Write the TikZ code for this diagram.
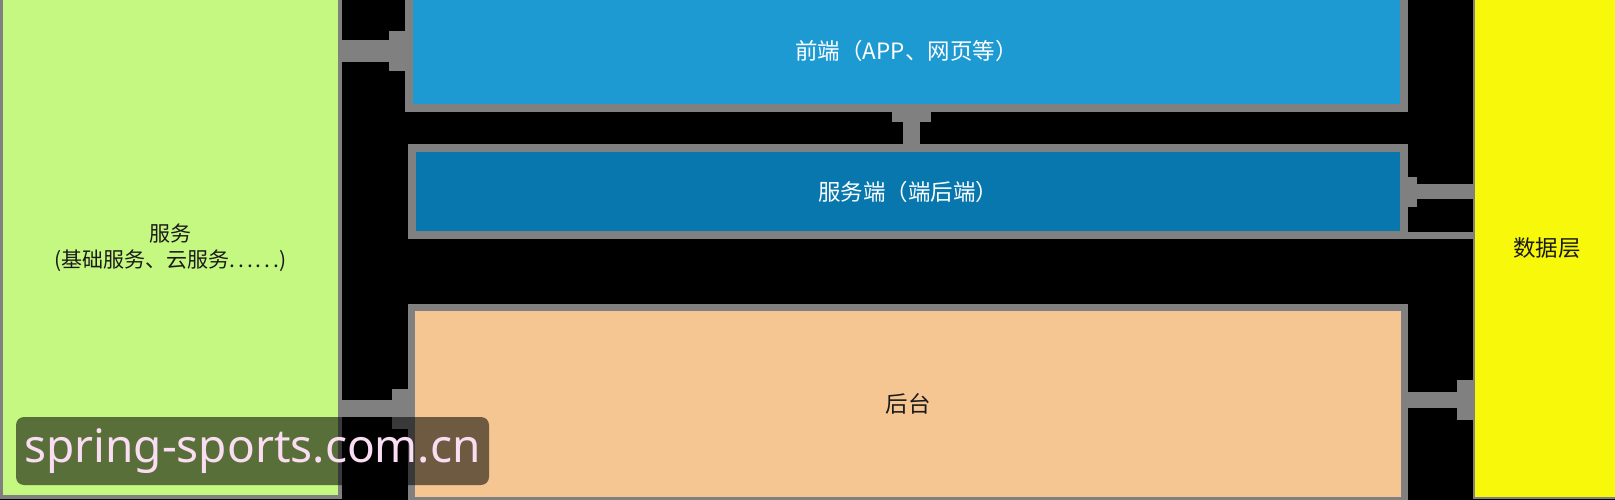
\documentclass[tikz,border=0pt]{standalone}
\usepackage{fontspec}
\setmainfont{Noto Sans CJK SC}
\newfontfamily\markfont{Noto Sans}
\usepackage{xcolor}
\usetikzlibrary{positioning, arrows.meta}

\definecolor{svcgreen}{HTML}{C4F880}
\definecolor{frontblue}{HTML}{1E9AD2}
\definecolor{serverblue}{HTML}{0777AD}
\definecolor{backpeach}{HTML}{F5C691}
\definecolor{datayellow}{HTML}{F8F80A}
\definecolor{edgegray}{HTML}{808080}
\definecolor{textdark}{HTML}{1A1A1A}
\definecolor{markpink}{HTML}{FADDF2}

\begin{document}
\begin{tikzpicture}[
  x=1pt, y=-1pt,
  every node/.style={font=\fontsize{22.5}{27}\selectfont, inner sep=0pt, align=center},
  layer/.style={draw=edgegray, line width=8pt},
  side/.style={draw=edgegray, text=textdark},
  link/.style={edgegray, line width=#1}
]
\useasboundingbox (0,0) rectangle (1615,500);
\fill[black] (0,0) rectangle (1615,500);
\clip (0,0) rectangle (1615,500);

% Left column: services
\node[side, fill=svcgreen, line width=4pt, minimum width=339pt, minimum height=499pt,
  font=\fontsize{21}{26.5}\selectfont] (svc) at (170.5, 247.5)
  {服务\\(基础服务、云服务{\addfontfeature{LetterSpace=14}......})};
% Right column: data layer
\node[side, fill=datayellow, line width=2pt, minimum width=146pt, minimum height=499pt] (data) at (1547, 248.5)
  {数据层};

% Middle layers
\node[layer, fill=frontblue, text=white, minimum width=995pt, minimum height=114pt] (front) at (906.5, 51)
  {前端（APP、网页等）};
\node[layer, fill=serverblue, text=white, minimum width=992pt, minimum height=86.5pt] (server) at (908, 191.75)
  {服务端（端后端）};
\node[layer, line width=7pt, fill=backpeach, text=textdark, minimum width=993pt, minimum height=192.5pt] (back) at (908, 403.75)
  {后台};

% Connectors
\draw[link=22pt, -{Rectangle[length=16pt, width=40pt, line width=0pt]}] (svc.east |- front.west) -- (front.west);
\draw[link=17pt, -{Rectangle[length=16pt, width=40pt, line width=0pt]}] ([yshift=-5pt]svc.east |- back.west) -- ([yshift=-5pt]back.west);
\draw[link=17pt, -{Rectangle[length=10pt, width=39pt, line width=0pt]}] ([xshift=3.5pt]server.north) -- ([xshift=3.5pt]server.north |- front.south);
\draw[link=15pt, -{Rectangle[length=9pt, width=30pt, line width=0pt]}] (data.west |- server.east) -- (server.east);
\draw[link=16pt, -{Rectangle[length=16pt, width=40pt, line width=0pt]}] ([yshift=4pt]back.east) -- ([yshift=4pt]data.west |- back.east);
\draw[link=7pt] ([yshift=4pt]server.south east) -- ([yshift=4pt]data.west |- server.south east);

% Watermark
\node[fill=black, fill opacity=0.55, text opacity=1, text=markpink, rounded corners=8pt,
  minimum width=473pt, minimum height=68pt, font=\markfont\fontsize{46}{50}\selectfont] (mark) at (252.5, 451)
  {spring-sports.com.cn};

\end{tikzpicture}
\end{document}
